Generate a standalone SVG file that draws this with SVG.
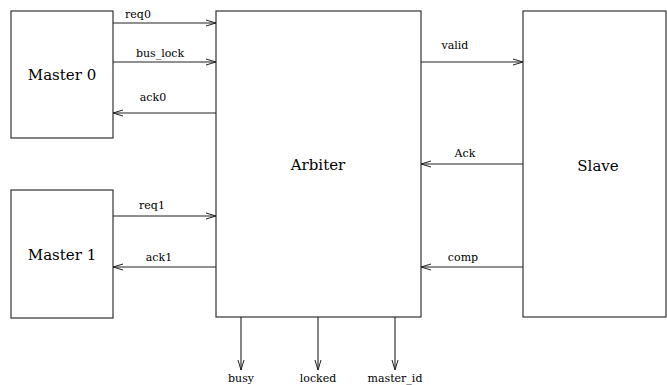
<svg xmlns="http://www.w3.org/2000/svg" width="667" height="385" viewBox="0 0 667 385">
<defs>
<marker id="arr" viewBox="0 0 10 8" refX="10" refY="4" markerWidth="10" markerHeight="8" markerUnits="userSpaceOnUse" orient="auto">
<polyline points="0,1 10,4 0,7" fill="none" stroke="#222" stroke-width="1"/>
</marker>
</defs>
<style>
.box{fill:#fff;stroke:#333;stroke-width:1.2}
text{font-family:'DejaVu Serif',serif;fill:#000;text-anchor:middle}
.lbl{font-size:15px}
.sig{font-size:11px}
.c{stroke:#222;stroke-width:1.1;fill:none;marker-end:url(#arr)}
</style>
<rect width="667" height="385" fill="#fff"/>
<g id="master0"><rect class="box" x="11" y="11" width="102" height="127"/><text class="lbl" x="62" y="80">Master 0</text></g>
<g id="master1"><rect class="box" x="11" y="190" width="102" height="128"/><text class="lbl" x="62" y="260">Master 1</text></g>
<g id="arbiter"><rect class="box" x="216" y="11" width="205" height="306"/><text class="lbl" x="318" y="170">Arbiter</text></g>
<g id="slave"><rect class="box" x="523" y="11" width="143" height="306"/><text class="lbl" x="598" y="171">Slave</text></g>
<g id="connectors">
<line class="c" x1="113" y1="23" x2="216" y2="23"/>
<line class="c" x1="113" y1="62" x2="216" y2="62"/>
<line class="c" x1="216" y1="113" x2="113" y2="113"/>
<line class="c" x1="113" y1="216" x2="216" y2="216"/>
<line class="c" x1="216" y1="267" x2="113" y2="267"/>
<line class="c" x1="421" y1="62" x2="523" y2="62"/>
<line class="c" x1="523" y1="164" x2="421" y2="164"/>
<line class="c" x1="523" y1="267" x2="421" y2="267"/>
<line class="c" x1="241" y1="317" x2="241" y2="370"/>
<line class="c" x1="318" y1="317" x2="318" y2="370"/>
<line class="c" x1="395" y1="317" x2="395" y2="370"/>
</g>
<g id="labels">
<text class="sig" x="138" y="18">req0</text>
<text class="sig" x="160" y="57">bus_lock</text>
<text class="sig" x="153" y="101">ack0</text>
<text class="sig" x="152" y="209">req1</text>
<text class="sig" x="159" y="261">ack1</text>
<text class="sig" x="455" y="49">valid</text>
<text class="sig" x="465" y="157">Ack</text>
<text class="sig" x="463" y="261">comp</text>
<text class="sig" x="241" y="382">busy</text>
<text class="sig" x="318" y="382">locked</text>
<text class="sig" x="395" y="382">master_id</text>
</g>
</svg>
